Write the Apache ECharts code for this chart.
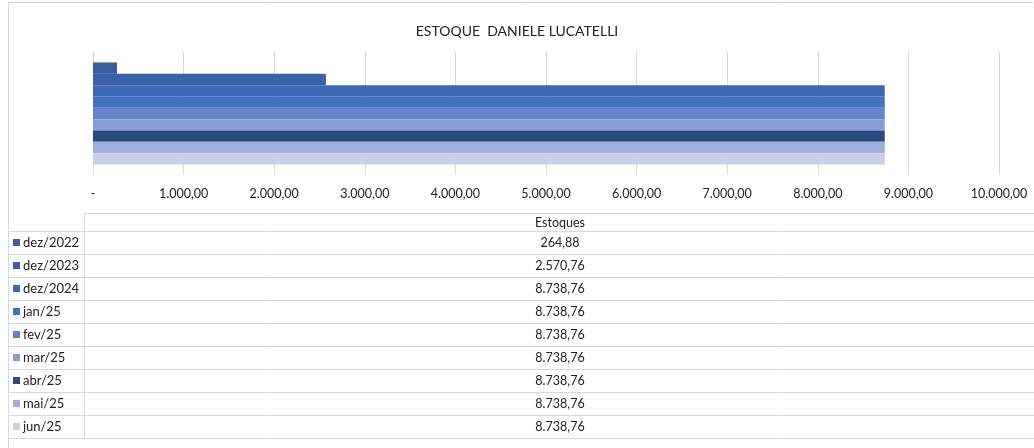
<!DOCTYPE html>
<html>
<head>
<meta charset="utf-8">
<script src="https://cdn.jsdelivr.net/npm/echarts@6/dist/echarts.min.js"></script>
<style>
  html, body { margin: 0; padding: 0; background: #fff; }
  #main { width: 1034px; height: 448px; }
</style>
</head>
<body>
<div id="main"></div>
<script>
// dados do gráfico
var categorias = ['Estoques'];
var periodos = ['dez/2022', 'dez/2023', 'dez/2024', 'jan/25', 'fev/25', 'mar/25', 'abr/25', 'mai/25', 'jun/25'];
var valores = [264.88, 2570.76, 8738.76, 8738.76, 8738.76, 8738.76, 8738.76, 8738.76, 8738.76];
var cores = ['#3a5da0', '#3b61a8', '#3e68b4', '#4171c0', '#6284c8', '#879ed4', '#2a4a80', '#9dafda', '#c9d0e8'];

var fonte = 'Lato, "Open Sans", sans-serif';

// formato brasileiro 1.234,56
function fmt(v) {
    if (v === 0) return '-';
    var p = v.toFixed(2).split('.');
    p[0] = p[0].replace(/\B(?=(\d{3})+(?!\d))/g, '.');
    return p[0] + ',' + p[1];
}

var dom = document.getElementById('main');
var myChart = echarts.init(dom);

// tabela de dados embaixo (estilo Excel)
var tabTop = 213, head = 18, rowH = 23, colX = 84, leftX = 8, rightX = 1034;
var graficos = [];
var linha = { stroke: '#d9d9d9', lineWidth: 1 };
// borda da área do gráfico
graficos.push({ type: 'line', shape: { x1: leftX, y1: 2.5, x2: 1033, y2: 2.5 }, style: linha, silent: true });
graficos.push({ type: 'line', shape: { x1: leftX + 0.5, y1: 2, x2: leftX + 0.5, y2: 448 }, style: linha, silent: true });

graficos.push({ type: 'line', shape: { x1: colX, y1: tabTop + 0.5, x2: rightX, y2: tabTop + 0.5 }, style: linha, silent: true });
graficos.push({ type: 'text', x: (colX + 1036) / 2, y: tabTop + head / 2 + 0.5,
    style: { text: categorias[0], fill: '#222', font: '12.5px ' + fonte, align: 'center', verticalAlign: 'middle' } });
for (var i = 0; i <= periodos.length; i++) {
    var y = tabTop + head + i * rowH + 0.5;
    graficos.push({ type: 'line', shape: { x1: leftX, y1: y, x2: rightX, y2: y }, style: linha, silent: true });
}
var fundo = tabTop + head + periodos.length * rowH;
graficos.push({ type: 'line', shape: { x1: colX + 0.5, y1: tabTop, x2: colX + 0.5, y2: fundo }, style: linha, silent: true });
periodos.forEach(function (p, k) {
    var cy = tabTop + head + k * rowH + rowH / 2 + 0.5;
    graficos.push({ type: 'rect', shape: { x: 13, y: cy - 4, width: 7, height: 7 }, style: { fill: cores[k] } });
    graficos.push({ type: 'text', x: 23, y: cy,
        style: { text: p, fill: '#222', font: '13px ' + fonte, align: 'left', verticalAlign: 'middle' } });
    graficos.push({ type: 'text', x: (colX + 1036) / 2, y: cy,
        style: { text: fmt(valores[k]), fill: '#222', font: '12.5px ' + fonte, align: 'center', verticalAlign: 'middle' } });
});

var option = {
    animation: false,
    title: {
        text: 'ESTOQUE  DANIELE LUCATELLI',
        left: 'center',
        top: 19,
        textStyle: { color: '#222', fontSize: 14, fontWeight: 'normal', fontFamily: fonte }
    },
    grid: { left: 93, right: 35, top: 52, height: 123, containLabel: false },
    xAxis: {
        type: 'value',
        min: 0,
        max: 10000,
        interval: 1000,
        axisLine: { show: false },
        axisTick: { show: false },
        axisLabel: { color: '#222', fontSize: 12.5, fontFamily: fonte, margin: 12, formatter: fmt },
        splitLine: { show: true, lineStyle: { color: '#d9d9d9', width: 1 } }
    },
    yAxis: {
        type: 'category',
        data: categorias,
        inverse: true,
        axisLine: { show: false },
        axisTick: { show: false },
        axisLabel: { show: false }
    },
    series: periodos.map(function (p, k) {
        var d = categorias.map(function () { return valores[k]; });
        return {
            name: p,
            type: 'bar',
            data: d,
            barGap: 0,
            barCategoryGap: '17%',
            itemStyle: { color: cores[k] },
            silent: true
        };
    }),
    graphic: graficos
};

myChart.setOption(option);
</script>
</body>
</html>
